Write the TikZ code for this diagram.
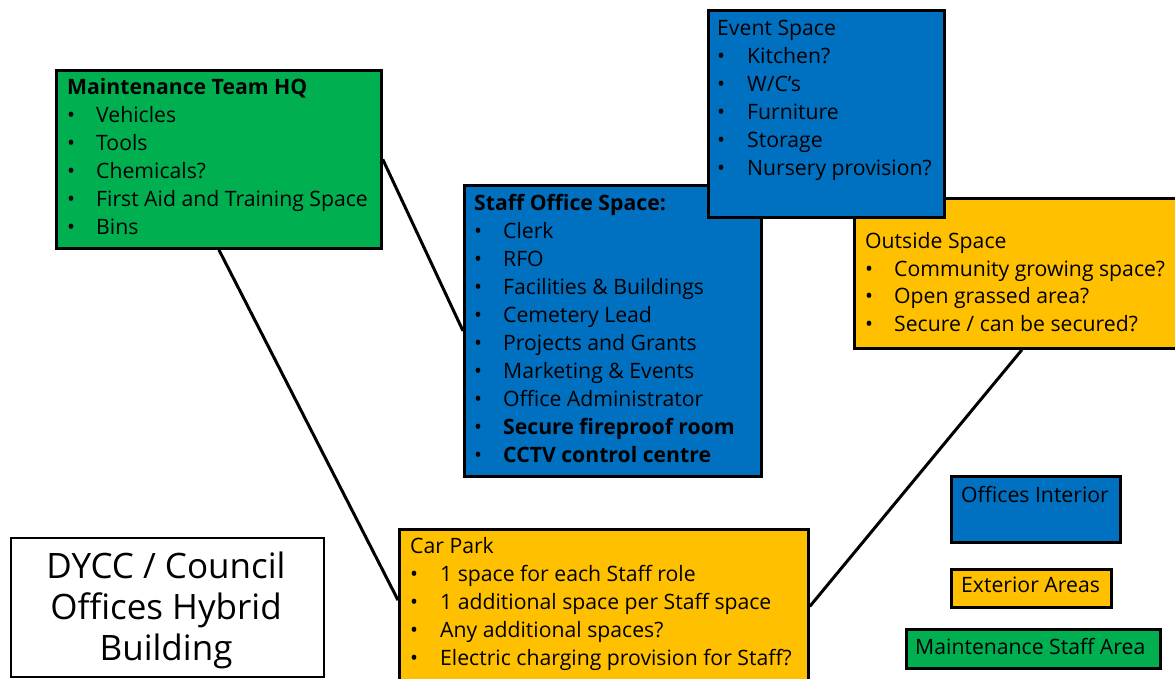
\documentclass[tikz,border=0pt]{standalone}
\usepackage{fontspec}
\setmainfont{Open Sans}
\usetikzlibrary{calc,backgrounds}
\definecolor{offblue}{HTML}{0070C0}
\definecolor{extyellow}{HTML}{FFC000}
\definecolor{mgreen}{HTML}{00B050}
\newcommand{\itm}[5]{%
  \node[txt] (#1b) at (#2,#4) {\textbullet};
  \node[txt] (#1) at (#3,#4) {#5};}
\begin{document}
\begin{tikzpicture}[x=1pt,y=-1pt,
  box/.style={draw=black, line width=2.8pt, inner sep=0pt, anchor=north west},
  conn/.style={draw=black, line width=3pt},
  txt/.style={inner sep=0pt, anchor=base west, font=\fontsize{21.2}{24}\selectfont, text=black},
  big/.style={inner sep=0pt, anchor=base, font=\fontsize{35}{40}\selectfont, text=black}]
\useasboundingbox (0,0) rectangle (1175,678);

% boxes
\node[box, fill=mgreen, minimum width=325pt, minimum height=178pt] (mt) at (55,69) {};
\node[box, fill=offblue, minimum width=297pt, minimum height=291pt] (so) at (463,184) {};
\node[box, fill=extyellow, minimum width=335pt, minimum height=150pt] (os) at (853,197) {};
\node[box, fill=offblue, minimum width=236pt, minimum height=207pt] (ev) at (707,9) {};
\node[box, fill=extyellow, minimum width=409pt, minimum height=154pt] (cp) at (398,528) {};
\node[box, fill=white, line width=2pt, minimum width=313pt, minimum height=139pt] (dy) at (10,537) {};
\node[box, fill=offblue, minimum width=169pt, minimum height=66pt] (lg1) at (950,475) {};
\node[box, fill=extyellow, minimum width=160pt, minimum height=38pt] (lg2) at (950,568) {};
\node[box, fill=mgreen, minimum width=254pt, minimum height=39pt] (lg3) at (905,628) {};

% connectors
\begin{pgfonlayer}{background}
\fill[white] (0,0) rectangle (1175,678);
\draw[conn] (mt.east) -- (so.west);
\draw[conn] (mt.south) -- ($(cp.north west)!0.46!(cp.south west)$);
\draw[conn] (cp.east) -- (os.south);
\end{pgfonlayer}

% Maintenance Team HQ
\node[txt, font=\fontsize{21.2}{24}\selectfont\bfseries] (mt0) at (67,94) {Maintenance Team HQ};
\itm{mt1}{67}{96}{122}{Vehicles}
\itm{mt2}{67}{96}{150}{Tools}
\itm{mt3}{67}{96}{178}{Chemicals?}
\itm{mt4}{67}{96}{206}{First Aid and Training Space}
\itm{mt5}{67}{96}{234}{Bins}

% Staff Office Space
\node[txt, font=\fontsize{21.2}{24}\selectfont\bfseries] (so0) at (474,210) {Staff Office Space:};
\itm{so1}{474}{503}{238}{Clerk}
\itm{so2}{474}{503}{266}{RFO}
\itm{so3}{474}{503}{294}{Facilities \& Buildings}
\itm{so4}{474}{503}{322}{Cemetery Lead}
\itm{so5}{474}{503}{350}{Projects and Grants}
\itm{so6}{474}{503}{378}{Marketing \& Events}
\itm{so7}{474}{503}{406}{Office Administrator}
\itm{so8}{474}{503}{434}{\bfseries Secure fireproof room}
\itm{so9}{474}{503}{462}{\bfseries CCTV control centre}

% Event Space
\node[txt] (ev0) at (717,35) {Event Space};
\itm{ev1}{717}{747}{63}{Kitchen?}
\itm{ev2}{717}{747}{91}{W/C’s}
\itm{ev3}{717}{747}{119}{Furniture}
\itm{ev4}{717}{747}{147}{Storage}
\itm{ev5}{717}{747}{175}{Nursery provision?}

% Outside Space
\node[txt] (os0) at (865,248) {Outside Space};
\itm{os1}{865}{894}{276}{Community growing space?}
\itm{os2}{865}{894}{303}{Open grassed area?}
\itm{os3}{865}{894}{331}{Secure / can be secured?}

% Car Park
\node[txt] (cp0) at (410,553) {Car Park};
\itm{cp1}{410}{440}{581}{1 space for each Staff role}
\itm{cp2}{410}{440}{609}{1 additional space per Staff space}
\itm{cp3}{410}{440}{637}{Any additional spaces?}
\itm{cp4}{410}{440}{665}{Electric charging provision for Staff?}

% Title box
\node[big] (dy1) at (166,578) {DYCC / Council};
\node[big] (dy2) at (166,619) {Offices Hybrid};
\node[big] (dy3) at (166,660) {Building};

% Legend
\node[txt] (lt1) at (961,502) {Offices Interior};
\node[txt] (lt2) at (961,592) {Exterior Areas};
\node[txt] (lt3) at (915,654) {Maintenance Staff Area};
\end{tikzpicture}
\end{document}
